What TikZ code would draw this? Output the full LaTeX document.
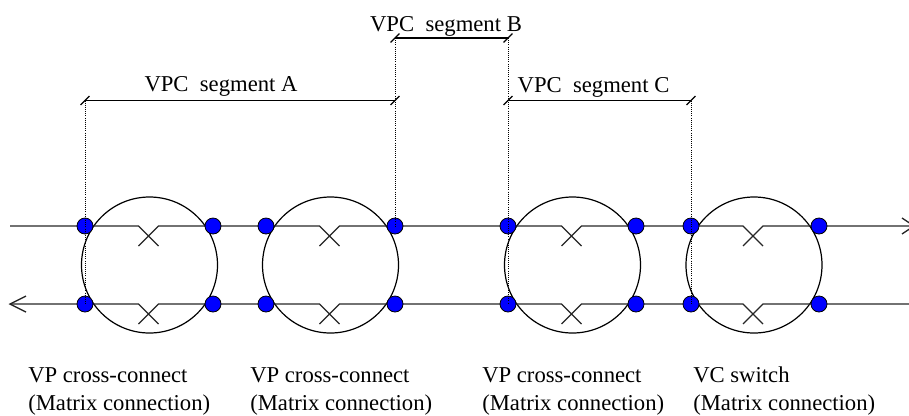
\documentclass[tikz,border=0pt]{standalone}
\usepackage{fontspec}
\setmainfont{Liberation Serif}
\tikzset{
  port/.style={circle,draw=black,fill=blue,line width=0.6pt,minimum size=12pt,inner sep=0pt},
  hub/.style={circle,draw=black,line width=0.9pt,minimum size=102pt,inner sep=0pt},
  wire/.style={draw=black!85,line width=1pt},
  guide/.style={draw=black,line width=0.6pt,densely dotted},
  spanline/.style={draw=black,line width=1pt},
  lbl/.style={font=\fontsize{17pt}{20pt}\selectfont,inner sep=0pt,anchor=base},
  captext/.style={font=\fontsize{17pt}{21pt}\selectfont,inner sep=0pt,align=left,anchor=north west}
}
\begin{document}
\begin{tikzpicture}[x=0.75pt,y=-0.75pt]
\useasboundingbox (0,0) rectangle (909,415);
% hubs
\foreach \n/\x in {1/149.5,2/330.5,3/572.5,4/754}{
  \node[hub] (h\n) at (\x,265) {};
  % cross-connect ends
  \coordinate (ta\n) at (\x-11,226);
  \coordinate (tb\n) at (\x+9,226);
  \coordinate (tc\n) at (\x-11,246);
  \coordinate (td\n) at (\x+9,246);
  \coordinate (ba\n) at (\x-11,304);
  \coordinate (bb\n) at (\x+9,304);
  \coordinate (bc\n) at (\x-11,324);
  \coordinate (bd\n) at (\x+9,324);
}
% free ends
\coordinate (tl) at (10,226);
\coordinate (tr) at (914,226);
\coordinate (tw1) at (902,218);
\coordinate (tw2) at (902,234);
\coordinate (bl) at (10,304);
\coordinate (br) at (909,304);
\coordinate (bw1) at (26,296);
\coordinate (bw2) at (26,312);
% top wire
\draw[wire] (tl) -- (ta1) -- (td1) (tc1) -- (tb1) -- (ta2) -- (td2) (tc2) -- (tb2) -- (ta3) -- (td3) (tc3) -- (tb3) -- (ta4) -- (td4) (tc4) -- (tb4) -- (tr);
\draw[wire] (tw1) -- (tr) -- (tw2);
% bottom wire
\draw[wire] (bl) -- (ba1) -- (bd1) (bc1) -- (bb1) -- (ba2) -- (bd2) (bc2) -- (bb2) -- (ba3) -- (bd3) (bc3) -- (bb3) -- (ba4) -- (bd4) (bc4) -- (bb4) -- (br);
\draw[wire] (bw1) -- (bl) -- (bw2);
% ports
\foreach \n/\l/\r in {1/85/213,2/266/395,3/508/636,4/691/819}{
  \node[port] (tp\n) at (\l,226) {};
  \node[port] (tq\n) at (\r,226) {};
  \node[port] (bp\n) at (\l,304) {};
  \node[port] (bq\n) at (\r,304) {};
}
% span ends
\coordinate (sa1) at (85,100.5);
\coordinate (sa2) at (395,100.5);
\coordinate (sb1) at (395,38);
\coordinate (sb2) at (508,38);
\coordinate (sc1) at (508,100.5);
\coordinate (sc2) at (691,100.5);
% guides
\draw[guide] (sa1) -- (tp1.center) -- (bp1.center);
\draw[guide] (sb1) -- (tq2.center);
\draw[guide] (sb2) -- (tp3.center) -- (bp3.center);
\draw[guide] (sc2) -- (tp4.center) -- (bp4.center);
% spans
\foreach \s in {a,b,c}{
  \draw[spanline] (s\s1) -- (s\s2);
  \draw[spanline] ([xshift=-3.3pt,yshift=-3.3pt]s\s1) -- ([xshift=3.3pt,yshift=3.3pt]s\s1);
  \draw[spanline] ([xshift=-3.3pt,yshift=-3.3pt]s\s2) -- ([xshift=3.3pt,yshift=3.3pt]s\s2);
}
% labels
\node[lbl] (la) at (221,91) {VPC\ \ segment A};
\node[lbl] (lb) at (446,31) {VPC\ \ segment B};
\node[lbl] (lc) at (593.5,92) {VPC\ \ segment C};
\node[captext] (c1) at (28,366) {\vphantom{h}VP cross-connect\\(Matrix connection)};
\node[captext] (c2) at (250,366) {\vphantom{h}VP cross-connect\\(Matrix connection)};
\node[captext] (c3) at (482,366) {\vphantom{h}VP cross-connect\\(Matrix connection)};
\node[captext] (c4) at (693,366) {\vphantom{h}VC switch\\(Matrix connection)};
\end{tikzpicture}
\end{document}
